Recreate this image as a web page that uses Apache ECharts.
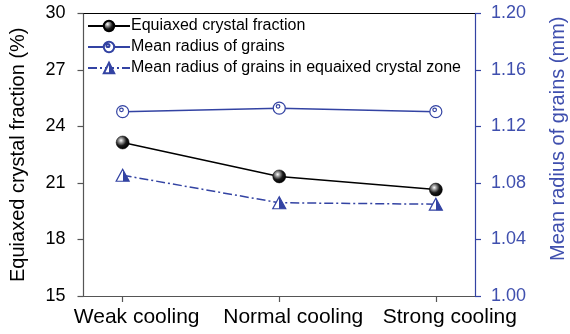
<!DOCTYPE html>
<html>
<head>
<meta charset="utf-8">
<script src="https://cdn.jsdelivr.net/npm/echarts@6/dist/echarts.min.js"></script>
<style>
html,body{margin:0;padding:0;background:#fff;}
#c{width:570px;height:334px;}
</style>
</head>
<body>
<div id="c"></div>
<script>
var categories = ['Weak cooling', 'Normal cooling', 'Strong cooling'];
var equiaxedFraction = [23.15, 21.35, 20.65];
var meanRadius = [1.1305, 1.1330, 1.1305];
var meanRadiusEquiaxedZone = [1.0855, 1.0660, 1.0650];
var leftTicks = [15, 18, 21, 24, 27, 30];
var rightTicks = [1.00, 1.04, 1.08, 1.12, 1.16, 1.20];

var FONT = "'Liberation Sans', Arial, sans-serif";
var BLUE = '#3343a3';
var BLUE_TXT = '#3f4fae';

function pts(arr){ return arr.map(function(v,i){ return [i, v]; }); }

var chart = echarts.init(document.getElementById('c'), null, {renderer:'canvas'});
chart.setOption({
  animation: false,
  backgroundColor: '#fff',
  textStyle: {fontFamily: FONT},
  grid: {left: 83.5, right: 95, top: 13.5, bottom: 38, containLabel: false, outerBoundsMode: 'none'},
  legend: {
    orient: 'vertical', left: 82, top: 13, itemWidth: 42, itemHeight: 13, itemGap: 5,
    textStyle: {fontFamily: FONT, fontSize: 16, color: '#000', padding:[0,0,0,-4]},
    data: ['Equiaxed crystal fraction', 'Mean radius of grains', 'Mean radius of grains in equaixed crystal zone']
  },
  xAxis: [{
    type: 'value', min: -0.25, max: 2.25, position: 'bottom',
    splitLine: {show:false},
    axisLine: {onZero:false, lineStyle:{color:'#555', width:1.2}},
    axisTick: {show:true, inside:false, length:6, customValues:[0,1,2], lineStyle:{color:'#555', width:1.2}},
    axisLabel: {customValues:[0,1,2], margin: 11, fontSize: 21, color:'#000', fontFamily: FONT, padding:[0,0,0,28],
      formatter: function(v){ return categories[Math.round(v)]; }}
  },{
    type: 'value', min: -0.25, max: 2.25, position: 'top',
    splitLine: {show:false},
    axisLine: {onZero:false, lineStyle:{color:'#000', width:1.2}},
    axisTick: {show:false}, axisLabel: {show:false}
  }],
  yAxis: [{
    type: 'value', min: leftTicks[0], max: leftTicks[leftTicks.length-1], interval: 3, position:'left',
    splitLine: {show:false},
    axisLine: {show:true, onZero:false, lineStyle:{color:'#555', width:1.2}},
    axisTick: {show:true, inside:false, length:6, lineStyle:{color:'#555', width:1.2}},
    axisLabel: {fontSize: 18, color:'#000', margin: 18, fontFamily: FONT},
    name: 'Equiaxed crystal fraction (%)', nameLocation: 'middle', nameGap: 55, nameRotate: 90,
    nameTextStyle: {fontSize: 20, color:'#000', fontFamily: FONT}
  },{
    type: 'value', min: rightTicks[0], max: rightTicks[rightTicks.length-1], interval: 0.04, position:'right',
    splitLine: {show:false},
    axisLine: {show:true, onZero:false, lineStyle:{color:BLUE, width:1.2}},
    axisTick: {show:true, inside:false, length:6, lineStyle:{color:BLUE, width:1.2}},
    axisLabel: {fontSize: 18, color:BLUE_TXT, margin: 16, fontFamily: FONT,
      formatter: function(v){ return v.toFixed(2); }},
    name: 'Mean radius of grains (mm)', nameLocation: 'middle', nameGap: 73, nameRotate: 90,
    nameTextStyle: {fontSize: 20, color:BLUE_TXT, fontFamily: FONT, padding:[0,0,0,32]}
  }],
  series: [{
    name: 'Equiaxed crystal fraction', type: 'line', xAxisIndex:0, yAxisIndex: 0,
    data: pts(equiaxedFraction),
    symbol: 'circle', symbolSize: 13,
    lineStyle: {color:'#000', width:1.5},
    itemStyle: {
      color: {type:'radial', x:0.38, y:0.35, r:0.65, colorStops:[
        {offset:0, color:'#ffffff'}, {offset:0.25, color:'#9a9a9a'}, {offset:0.6, color:'#1a1a1a'}, {offset:1, color:'#000'}]},
      borderColor:'#000', borderWidth:0.5
    },
    z: 3
  },{
    name: 'Mean radius of grains', type: 'line', xAxisIndex:0, yAxisIndex: 1,
    data: pts(meanRadius),
    symbol: 'path://M10,0A10,10 0 1,1 9.99,0ZM8,4A3,3 0 1,1 7.99,4Z', symbolSize: 12,
    lineStyle: {color: BLUE, width:1.5},
    itemStyle: {color:'#fff', borderColor: BLUE, borderWidth:1.2},
    z: 3
  },{
    name: 'Mean radius of grains in equaixed crystal zone', type: 'line', xAxisIndex:0, yAxisIndex: 1,
    data: pts(meanRadiusEquiaxedZone),
    symbol: 'triangle', symbolSize: [13, 12],
    lineStyle: {color: BLUE, width:1.5, type:[9,3,2,3]},
    itemStyle: {
      color: {type:'linear', x:0, y:0, x2:1, y2:0, colorStops:[
        {offset:0, color:'#fff'}, {offset:0.5, color:'#fff'}, {offset:0.5, color:BLUE}, {offset:1, color:BLUE}]},
      borderColor: BLUE, borderWidth:1.2
    },
    z: 3
  }]
});
</script>
</body>
</html>
